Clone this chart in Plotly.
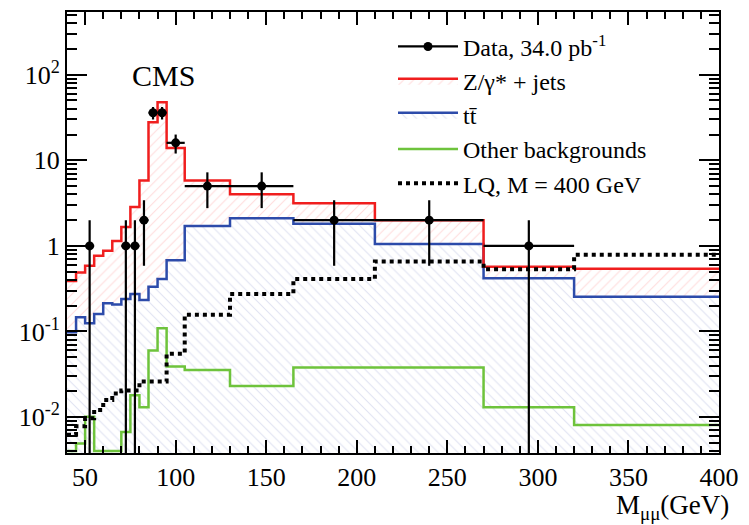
import plotly.graph_objects as go

# ---------------- data ----------------
bin_edges = [40, 45, 50, 55, 60, 65, 70, 75, 80, 85, 90, 95, 105, 130, 165, 210, 270, 320, 400]
zjets = [0.39, 0.49, 0.585, 0.765, 0.875, 1.14, 1.66, 2.85, 5.8, 27.9, 47.6, 13.9, 5.8, 4.0, 3.14, 1.99, 0.57, 0.54]
ttbar = [0.098, 0.147, 0.125, 0.160, 0.213, 0.206, 0.24, 0.274, 0.234, 0.333, 0.41, 0.68, 1.71, 2.10, 1.82, 1.05, 0.42, 0.255]
other = [0.004, 0.0049, 0.0101, 0.004, 0.004, 0.004, 0.0067, 0.018, 0.013, 0.060, 0.109, 0.039, 0.0354, 0.023, 0.038, 0.038, 0.013, 0.0081]
lq400 = [0.0062, 0.0078, 0.0097, 0.0121, 0.0158, 0.0188, 0.0205, 0.0205, 0.026, 0.026, 0.026, 0.055, 0.157, 0.274, 0.41, 0.657, 0.535, 0.786]

data_x = [52.5, 72.5, 77.5, 82.5, 87.5, 92.5, 100, 117.5, 147.5, 187.5, 240, 295]
data_y = [1, 1, 1, 2, 36, 36, 16, 5, 5, 2, 2, 1]
data_xerr = [2.5, 2.5, 2.5, 2.5, 2.5, 2.5, 5, 12.5, 17.5, 22.5, 30, 25]

x_ticks = [50, 100, 150, 200, 250, 300, 350, 400]
y_ticks = [0.01, 0.1, 1, 10, 100]
y_ticktext = ["10<sup>-2</sup>", "10<sup>-1</sup>", "1", "10", "10<sup>2</sup>"]

# ---------------- helpers ----------------
def step(vals):
    return list(bin_edges), list(vals) + [vals[-1]]

def interleave(vals):
    # put a gap after every point so the legend can show a line while points stay unconnected
    out = []
    for v in vals:
        out += [v, None]
    return out

FONT = "Liberation Serif"
RED = "rgb(240,30,30)"
BLUE = "rgb(45,75,170)"
GREEN = "rgb(110,195,60)"

fig = go.Figure()

sx, sy = step(ttbar)
fig.add_trace(go.Scatter(
    x=sx, y=sy, mode="lines", line=dict(shape="hv", color=BLUE, width=2.5),
    fill="tozeroy", fillcolor="rgba(0,0,0,0)",
    fillpattern=dict(shape="\\", fgcolor="rgb(192,198,228)", bgcolor="rgba(0,0,0,0)", size=7, solidity=0.15),
    name="tt\u0304", legendrank=3))

sx, sy = step(zjets)
fig.add_trace(go.Scatter(
    x=sx, y=sy, mode="lines", line=dict(shape="hv", color=RED, width=2.5),
    fill="tonexty", fillcolor="rgba(0,0,0,0)",
    fillpattern=dict(shape="/", fgcolor="rgb(255,185,185)", bgcolor="rgba(0,0,0,0)", size=7, solidity=0.15),
    name="Z/\u03b3* + jets", legendrank=2))

sx, sy = step(other)
fig.add_trace(go.Scatter(
    x=sx, y=sy, mode="lines", line=dict(shape="hv", color=GREEN, width=2.5),
    name="Other backgrounds", legendrank=4))

sx, sy = step(lq400)
fig.add_trace(go.Scatter(
    x=sx, y=sy, mode="lines", line=dict(shape="hv", color="black", width=4, dash="dot"),
    name="LQ, M = 400 GeV", legendrank=5))

fig.add_trace(go.Scatter(
    x=interleave(data_x), y=interleave(data_y), mode="markers+lines",
    connectgaps=False, line=dict(width=2.2, color="black"),
    marker=dict(color="black", size=9),
    error_y=dict(type="data", array=interleave([v ** 0.5 for v in data_y]), color="black", thickness=2.2, width=0),
    error_x=dict(type="data", array=interleave(data_xerr), color="black", thickness=2.2, width=0),
    name="Data, 34.0 pb<sup>-1</sup>", legendrank=1))

fig.update_layout(
    width=749, height=525,
    margin=dict(l=67, r=29, t=10, b=72),
    paper_bgcolor="white", plot_bgcolor="white",
    font=dict(family=FONT, size=26, color="black"),
    showlegend=True,
    legend=dict(x=0.50, y=0.972, xanchor="left", yanchor="top", traceorder="normal",
                bgcolor="rgba(0,0,0,0)", font=dict(family=FONT, size=24),
                itemwidth=60, tracegroupgap=0),
)

fig.update_xaxes(
    range=[40, 400], showline=True, linecolor="black", linewidth=2, mirror="ticks",
    ticks="inside", ticklen=13, tickwidth=1.5, tickcolor="black",
    tickvals=x_ticks, tickfont=dict(family=FONT, size=26), showgrid=False, zeroline=False,
    minor=dict(ticks="inside", ticklen=7, tickwidth=1.5, tickcolor="black", dtick=10, tick0=0, showgrid=False),
)

minor_y = [k * 10 ** d for d in range(-3, 3) for k in range(2, 10)]
fig.update_yaxes(
    type="log", range=[-2.42, 2.733], showline=True, linecolor="black", linewidth=2, mirror="ticks",
    ticks="inside", ticklen=20, tickwidth=1.5, tickcolor="black",
    tickvals=y_ticks, ticktext=y_ticktext, tickfont=dict(family=FONT, size=26),
    showgrid=False, zeroline=False,
    minor=dict(ticks="inside", ticklen=10, tickwidth=1.5, tickcolor="black", tickvals=minor_y, showgrid=False),
)

fig.add_annotation(text="CMS", xref="paper", yref="paper", x=0.097, y=0.857,
                   xanchor="left", yanchor="middle", showarrow=False,
                   font=dict(family=FONT, size=30, color="black"))
fig.add_annotation(text="M<sub>\u03bc\u03bc</sub>(GeV)", xref="paper", yref="paper", x=1.018, y=-0.079,
                   xanchor="right", yanchor="top", showarrow=False,
                   font=dict(family=FONT, size=27, color="black"))

fig.write_html("out.html")
